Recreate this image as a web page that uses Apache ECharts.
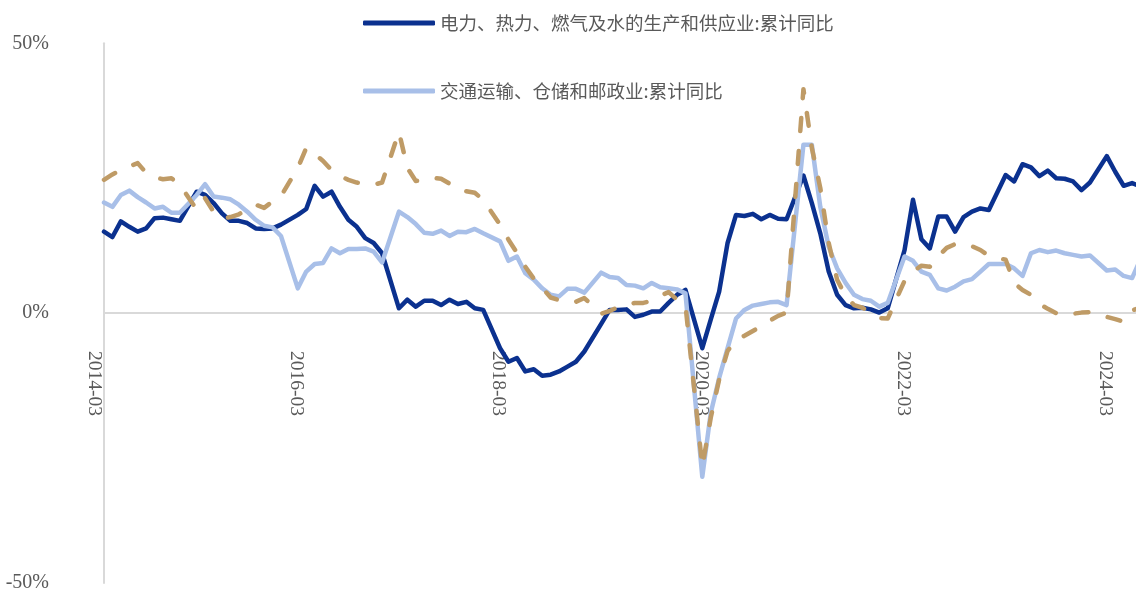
<!DOCTYPE html>
<html><head><meta charset="utf-8">
<script src="https://cdn.jsdelivr.net/npm/echarts@6/dist/echarts.min.js"></script>
<style>html,body{margin:0;padding:0;background:#fff}#c{width:1136px;height:592px}</style>
</head><body><div id="c"></div>
<script>
// monthly categories 2014-03 .. 2024-06 (January has no cumulative value)
const categories = [
 '2014-03','2014-04','2014-05','2014-06','2014-07','2014-08','2014-09','2014-10','2014-11','2014-12',
 '2015-01','2015-02','2015-03','2015-04','2015-05','2015-06','2015-07','2015-08','2015-09','2015-10','2015-11','2015-12',
 '2016-01','2016-02','2016-03','2016-04','2016-05','2016-06','2016-07','2016-08','2016-09','2016-10','2016-11','2016-12',
 '2017-01','2017-02','2017-03','2017-04','2017-05','2017-06','2017-07','2017-08','2017-09','2017-10','2017-11','2017-12',
 '2018-01','2018-02','2018-03','2018-04','2018-05','2018-06','2018-07','2018-08','2018-09','2018-10','2018-11','2018-12',
 '2019-01','2019-02','2019-03','2019-04','2019-05','2019-06','2019-07','2019-08','2019-09','2019-10','2019-11','2019-12',
 '2020-01','2020-02','2020-03','2020-04','2020-05','2020-06','2020-07','2020-08','2020-09','2020-10','2020-11','2020-12',
 '2021-01','2021-02','2021-03','2021-04','2021-05','2021-06','2021-07','2021-08','2021-09','2021-10','2021-11','2021-12',
 '2022-01','2022-02','2022-03','2022-04','2022-05','2022-06','2022-07','2022-08','2022-09','2022-10','2022-11','2022-12',
 '2023-01','2023-02','2023-03','2023-04','2023-05','2023-06','2023-07','2023-08','2023-09','2023-10','2023-11','2023-12',
 '2024-01','2024-02','2024-03','2024-04','2024-05','2024-06'
];
const seriesNames = ['电力、热力、燃气及水的生产和供应业:累计同比', '交通运输、仓储和邮政业:累计同比', '水利、环境和公共设施管理业:累计同比'];
const utilities = [
 15.1,14.1,17.0,16.0,15.1,15.7,17.6,17.7,17.4,17.1,
 null,22.5,21.9,20.4,18.5,17.1,17.1,16.7,15.7,15.6,15.7,16.4,
 null,18.2,19.3,23.6,21.6,22.5,19.7,17.3,16.0,13.9,13.0,11.1,
 null,0.9,2.5,1.2,2.3,2.3,1.5,2.5,1.7,2.1,0.9,0.6,
 null,-6.5,-9.0,-8.3,-10.8,-10.4,-11.6,-11.4,-10.8,-9.9,-9.0,-7.1,
 null,-2.0,0.6,0.6,0.7,-0.7,-0.3,0.3,0.3,1.9,3.4,4.3,
 null,-6.5,-1.2,4.0,13.0,18.2,18.0,18.4,17.4,18.2,17.5,17.4,
 null,25.5,20.4,14.8,7.7,3.4,1.5,0.9,1.0,0.7,0.1,0.9,
 null,11.7,21.0,13.7,12.0,17.9,17.9,15.1,17.8,18.8,19.4,19.1,
 null,25.6,24.4,27.6,27.0,25.4,26.4,25.0,24.9,24.4,22.8,24.2,
 null,29.1,26.2,23.6,24.1,23.5
];
const transport = [
 20.5,19.7,21.9,22.7,21.5,20.5,19.4,19.7,18.6,18.6,
 null,21.9,23.9,21.6,21.4,21.1,20.1,18.8,17.3,16.2,15.9,14.3,
 null,4.6,7.7,9.1,9.3,12.0,11.1,11.9,11.9,12.0,11.4,9.4,
 null,18.8,17.8,16.5,14.9,14.7,15.3,14.3,15.1,15.0,15.6,14.8,
 null,13.3,9.7,10.5,7.4,6.2,4.6,3.4,3.1,4.5,4.5,3.8,
 null,7.5,6.7,6.5,5.2,5.1,4.6,5.6,4.8,4.6,4.4,3.7,
 null,-30.3,-18.5,-12.0,-6.5,-1.0,0.6,1.4,1.7,2.0,2.1,1.5,
 null,31.2,31.2,19.7,12.3,8.3,5.6,3.4,2.6,2.3,1.2,1.9,
 null,10.5,9.7,7.7,7.1,4.6,4.2,4.9,5.9,6.3,7.7,9.1,
 null,9.1,8.3,6.9,11.1,11.7,11.3,11.6,11.1,10.8,10.5,10.7,
 null,7.9,8.1,6.9,6.5,10.0
];
const publicFacilities = [
 24.7,25.7,26.5,27.2,27.8,26.0,25.2,24.8,25.0,23.8,
 null,19.2,21.3,18.8,17.5,17.8,18.3,19.3,20.1,19.5,20.7,21.7,
 null,26.9,30.6,29.5,28.2,26.5,25.4,24.7,24.2,24.0,23.8,24.2,
 null,33.6,26.9,24.5,24.7,25.1,24.9,24.0,22.9,22.6,22.3,21.0,
 null,16.4,13.6,11.2,8.6,6.4,4.7,2.9,2.4,2.0,2.1,2.8,
 null,-0.1,0.4,1.1,1.5,1.9,1.9,2.3,3.2,3.9,2.5,1.5,
 null,-28.5,-19.4,-12.3,-7.0,-4.9,-4.2,-3.3,-2.4,-1.4,-0.5,0.1,
 null,41.5,30.6,23.2,13.0,6.2,3.2,1.5,1.0,0.1,-0.9,-1.0,
 null,6.0,7.7,8.8,8.6,10.5,12.1,12.8,12.8,12.4,11.7,10.6,
 null,9.9,5.6,4.3,3.4,1.7,0.8,0.0,-0.3,-0.1,0.1,0.2,
 null,-0.7,-1.1,-1.6,0.5,1.0
];
const yTicks = {min: -50, max: 50, step: 50};
const colors = ['#0B318F', '#A8BFE8', '#BF9B66'];

const chart = echarts.init(document.getElementById('c'), null, {renderer: 'canvas'});
const numFont = 'Liberation Serif';
chart.setOption({
  animation: false,
  backgroundColor: '#ffffff',
  grid: {left: 104, right: -4.5, top: 43.3, bottom: 9, outerBoundsMode: 'none'},
  legend: {
    data: [seriesNames[0], seriesNames[1]],
    orient: 'vertical', left: 363, top: 13, padding: 0,
    itemWidth: 72, itemHeight: 5, itemGap: 48,
    icon: 'roundRect',
    textStyle: {fontFamily: 'Noto Sans CJK SC', fontSize: 18.5, color: '#595959', lineHeight: 20}
  },
  xAxis: {
    type: 'category', data: categories, boundaryGap: false,
    axisLine: {onZero: true, lineStyle: {color: '#D9D9D9', width: 2}},
    axisTick: {show: false},
    // labels hang just under the zero line (the axis line sits at 0, the grid bottom is at -50%)
    axisLabel: {show: true, interval: 23, rotate: -90, margin: -232, verticalAlign: 'top', color: '#595959', fontFamily: numFont, fontSize: 19.5},
    splitLine: {show: false}
  },
  yAxis: {
    type: 'value', min: yTicks.min, max: yTicks.max, interval: yTicks.step,
    axisLine: {show: true, lineStyle: {color: '#D9D9D9', width: 2}},
    axisTick: {show: false},
    splitLine: {show: false},
    axisLabel: {formatter: '{value}%', margin: 55, color: '#595959', fontFamily: numFont, fontSize: 20}
  },
  series: [
    {name: seriesNames[0], type: 'line', data: utilities, connectNulls: true, showSymbol: false, symbol: 'none', z: 2,
     itemStyle: {color: colors[0]}, lineStyle: {color: colors[0], width: 4.5, cap: 'round', join: 'round'}},
    {name: seriesNames[1], type: 'line', data: transport, connectNulls: true, showSymbol: false, symbol: 'none', z: 3,
     itemStyle: {color: colors[1]}, lineStyle: {color: colors[1], width: 4.5, cap: 'round', join: 'round'}},
    {name: seriesNames[2], type: 'line', data: publicFacilities, connectNulls: true, showSymbol: false, symbol: 'none', z: 4,
     itemStyle: {color: colors[2]}, lineStyle: {color: colors[2], width: 4.5, type: [13, 20], cap: 'round', join: 'round'}}
  ]
});
</script></body></html>
